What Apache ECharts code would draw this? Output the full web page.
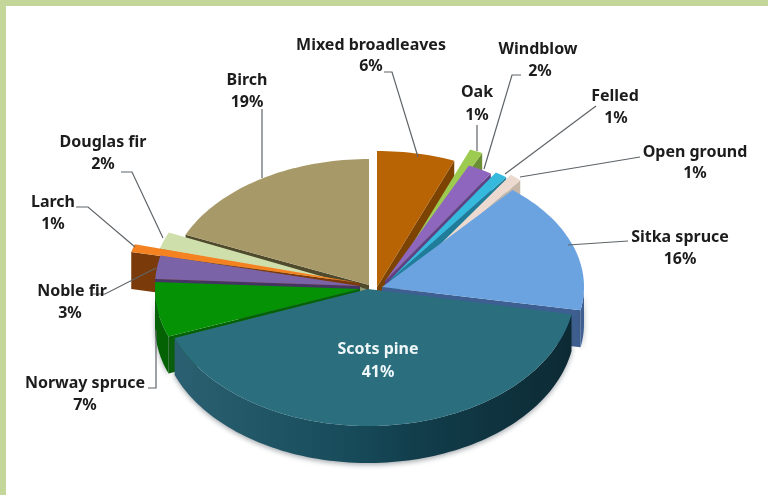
<!DOCTYPE html>
<html><head><meta charset="utf-8">
<style>html,body{margin:0;padding:0;background:#fff}#c{width:768px;height:495px}</style>
<script src="https://cdn.jsdelivr.net/npm/echarts@6/dist/echarts.min.js"></script>
</head><body><div id="c"></div>
<script>
const names = ['Mixed broadleaves','Oak','Windblow','Felled','Open ground','Sitka spruce','Scots pine','Norway spruce','Noble fir','Larch','Douglas fir','Birch'];
const shares = [6,1,2,1,1,16,41,7,3,1,2,19];

const topColors = ['#b86405','#9ccb50','#8e66bd','#35b9dd','#ecd9cf','#6aa3e0','#2b6f7f','#059205','#7a63a6','#f58220','#cfdfac','#a89a68'];
const wallColors = ['#7d4303','#6c8f36','#5f4285','#1f7d99','#c6b7a8','#3d5f92','#123c4a','#046204','#453563','#7a3a0a','#8b9a6f','#4f4a2c'];
const paintOrder = [11,0,1,2,3,4,10,9,8,5,7,6];
const offsets = [[5,-1],[22,-14],[13,-7],[18,-8],[28,-4],[10,-1],[-4,1],[-12,1],[-12,-2],[-12,-5],[-6,1],[-3,-3]];
const radiiX = [208,205,195,195,186,202,207,205,205,235,215,200];
const radiiY = [136,134,128,128,136,127,137,133,133,135,142,126];
const center = [372,288], depth = 37;

const labelSpots = [[371,45,371,66],[477,92,477,115],[538,49,540,71],[615,96,616,118],[695,152,695,173],[680,237,680,259],[378,349,378,372],[85,383,85,405],[72,291,70,313],[53,202,53,224],[103,142,103,164],[247,80,247,102]];
const leaders = [[[384,72],[392,72],[418,157]],[[477,125],[477,151]],[[521,75],[512,75],[484,169]],[[596,106],[505,174]],[[640,157],[520,177]],[[628,241],[568,245]],null,[[148,388],[156,388],[156,330]],[[92,294],[105,294],[156,268]],[[76,207],[88,207],[135,247]],[[121,172],[132,172],[163,238]],[[262,109],[262,178]]];

const rad = d => d*Math.PI/180;
const warp = t => t + 3*(1-Math.cos(rad(t)));
const bounds = [0];
shares.forEach(v => bounds.push(bounds[bounds.length-1] + v));
const total = bounds[bounds.length-1];

function slice(params, api){
  const i = api.value(0), z = params.dataIndex*5+1;
  const a = warp(bounds[i]/total*360), b = warp(bounds[i+1]/total*360);
  const cx = center[0]+offsets[i][0], cy = center[1]+offsets[i][1];
  const rx = radiiX[i], ry = radiiY[i];
  const P = (t,drop=0) => [cx+rx*Math.sin(rad(t)), cy-ry*Math.cos(rad(t))+drop];
  const arc = (s,e,drop=0) => { const o=[]; const n=Math.max(2,Math.ceil(Math.abs(e-s)/1.5)); for(let k=0;k<=n;k++) o.push(P(s+(e-s)*k/n,drop)); return o; };
  const kids = [];
  const poly = (points,fill,extra) => kids.push({type:'polygon',z2:z+kids.length,shape:{points},style:Object.assign({fill,stroke:null},extra||{})});
  const apex = [cx,cy], apexLow = [cx,cy+depth];
  if(a>180) poly([apex,P(a),P(a,depth),apexLow],wallColors[i]);
  if(b<180) poly([apex,P(b),P(b,depth),apexLow],wallColors[i]);
  const s = Math.max(a,90), e = Math.min(b,270);
  if(e>s){
    const fill = i===6 ? new echarts.graphic.LinearGradient(0,0,1,0,[{offset:0,color:'#2a6071'},{offset:.45,color:'#174b5a'},{offset:.6,color:'#123e4c'},{offset:1,color:'#0c2a34'}]) : wallColors[i];
    poly(arc(s,e).concat(arc(e,s,depth)),fill,{shadowBlur:5,shadowColor:'rgba(60,70,80,.45)',shadowOffsetY:2});
  }
  poly([apex].concat(arc(a,b)),topColors[i]);
  return {type:'group',children:kids};
}

function note(params, api){
  const i = api.value(0), sp = labelSpots[i], kids = [];
  if(leaders[i]) kids.push({type:'polyline',z2:900,shape:{points:leaders[i]},style:{stroke:'#5f6468',lineWidth:1.2,fill:null}});
  const fill = i===6 ? '#eef6f8' : '#1c1c1c';
  [[names[i],sp[0],sp[1]],[shares[i]+'%',sp[2],sp[3]]].forEach(t => kids.push({type:'text',z2:901,style:{text:t[0],x:t[1],y:t[2],fill,font:'bold 16px "Noto Sans"',align:'center',verticalAlign:'middle'}}));
  return {type:'group',children:kids};
}

const chart = echarts.init(document.getElementById('c'));
chart.setOption({
  animation:false,
  backgroundColor:'#c5d69b',
  graphic:[{type:'rect',z:-10,shape:{x:6,y:6,width:762,height:489},style:{fill:'#fff'}}],
  series:[
    {type:'custom',coordinateSystem:'none',silent:true,z:2,data:paintOrder.map(i=>[i]),renderItem:slice},
    {type:'custom',coordinateSystem:'none',silent:true,z:3,data:names.map((n,i)=>[i]),renderItem:note}
  ]
});
</script></body></html>
